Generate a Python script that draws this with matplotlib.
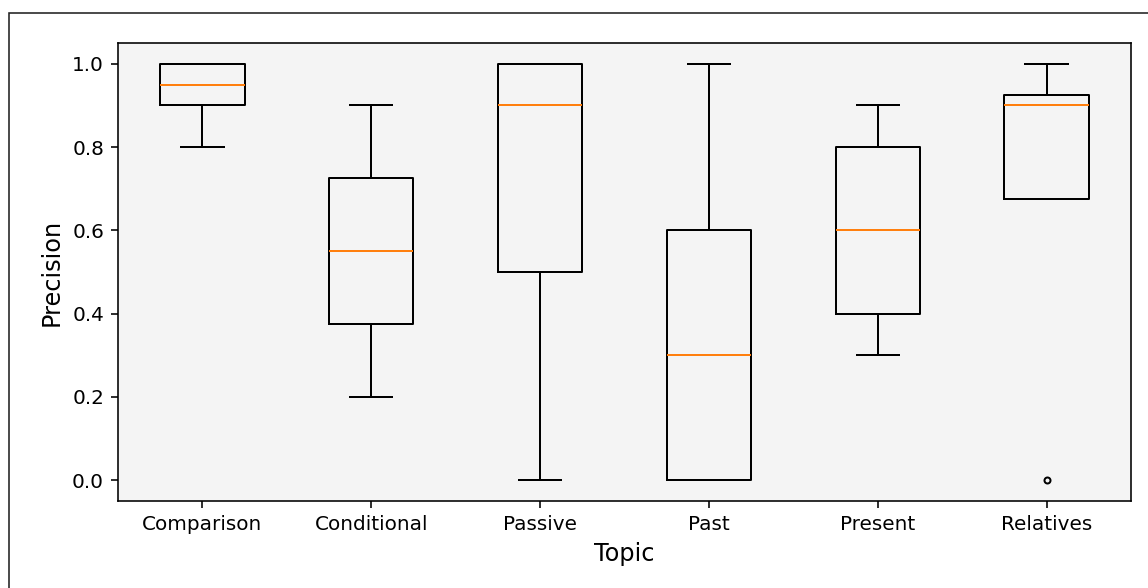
import matplotlib
matplotlib.use("Agg")
import matplotlib.pyplot as plt
from matplotlib.patches import Rectangle

# ========================
# Data (box statistics)
# ========================
topics = ["Comparison", "Conditional", "Passive", "Past", "Present", "Relatives"]
whislo = [0.8, 0.2, 0.0, 0.0, 0.3, 0.675]
q1 = [0.9, 0.375, 0.5, 0.0, 0.4, 0.675]
med = [0.95, 0.55, 0.9, 0.3, 0.6, 0.9]
q3 = [1.0, 0.725, 1.0, 0.6, 0.8, 0.925]
whishi = [1.0, 0.9, 1.0, 1.0, 0.9, 1.0]
fliers = [[], [], [], [], [], [0.0]]

stats = []
for i, name in enumerate(topics):
    stats.append(dict(label=name, whislo=whislo[i], q1=q1[i], med=med[i],
                      q3=q3[i], whishi=whishi[i], fliers=fliers[i]))

# ========================
# Figure setup
# ========================
DPI = 144
fig = plt.figure(figsize=(1148 / DPI, 588 / DPI), dpi=DPI)
ax = fig.add_axes([118 / 1148, 1 - 501 / 588, (1131 - 118) / 1148, (501 - 43) / 588])
ax.set_facecolor("#f4f4f4")

ax.bxp(stats, flierprops=dict(marker="o", markersize=3, markerfacecolor="none",
                              markeredgecolor="black"))

ax.set_ylim(-0.05, 1.05)
ax.set_xlabel("Topic", fontsize=12)
ax.set_ylabel("Precision", fontsize=12)
ax.tick_params(labelsize=10)

# Frame around the figure (cut off at right/bottom)
fig.patches.append(Rectangle((9 / 1148, -0.1), 1.2, 1 - 13 / 588 + 0.1,
                             transform=fig.transFigure, fill=False,
                             edgecolor="#222222", linewidth=0.8))

fig.savefig("out.png", dpi=DPI)
